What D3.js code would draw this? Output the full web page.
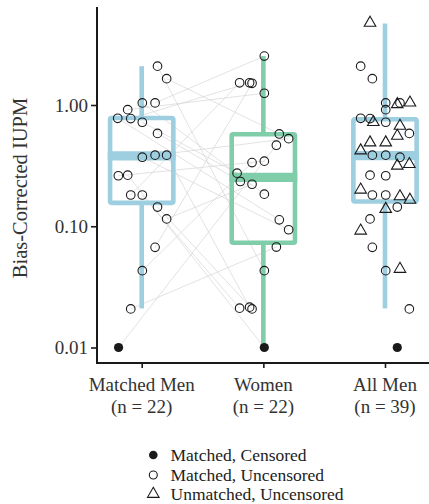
<!DOCTYPE html>
<html><head><meta charset="utf-8">
<script src="https://cdn.jsdelivr.net/npm/d3@7"></script>
<style>body{margin:0;background:#fff}</style>
</head><body><svg id="c" width="429" height="504"></svg>
<script>
// ---------------- data ----------------
const categories = ["Matched Men", "Women", "All Men"];
const categoryN = ["(n = 22)", "(n = 22)", "(n = 39)"];
const yTicks = [0.01, 0.1, 1];
const yTickLabels = ["0.01", "0.10", "1.00"];

const matchedMenIUPM = [2.09, 1.65, 1.04, 1.04, 0.915, 0.777, 0.773, 0.721, 0.583, 0.386, 0.386, 0.371,
  0.264, 0.261, 0.181, 0.181, 0.144, 0.115, 0.067, 0.043, 0.0208, 0.01];
const matchedMenCensored = [0,0,0,0,0,0,0,0,0,0,0,0,0,0,0,0,0,0,0,0,0,1];
// horizontal jitter (category units) in the "Matched Men" column
const matchedMenJitter = [0.13, 0.205, 0.005, 0.11, -0.115, -0.197, -0.09, 0.005, 0.13, 0.11, 0.205, 0.005,
  -0.115, -0.192, -0.09, 0.005, 0.13, 0.205, 0.11, 0.005, -0.09, -0.19];
// horizontal jitter of the same men in the "All Men" column
const matchedMenJitterAll = [-0.2, -0.104, 0.006, 0.123, 0.006, -0.2, -0.123, 0.006, 0.2, -0.104, 0.006, 0.123,
  -0.123, 0.006, -0.104, 0.006, 0.101, -0.123, -0.104, 0.006, 0.2, 0.101];

const womenIUPM = [2.53, 1.525, 1.525, 1.51, 1.25, 0.577, 0.528, 0.466, 0.344, 0.335, 0.274, 0.234,
  0.222, 0.184, 0.113, 0.0936, 0.0674, 0.043, 0.0211, 0.0215, 0.0208, 0.01];
const womenCensored = [0,0,0,0,0,0,0,0,0,0,0,0,0,0,0,0,0,0,0,0,0,1];
const womenJitter = [0.008, -0.195, -0.113, -0.093, 0.008, 0.131, 0.208, 0.107, 0.008, -0.093, -0.216, -0.189,
  -0.093, 0.008, 0.131, 0.208, 0.107, 0.008, -0.195, -0.113, -0.093, 0.008];
// index of the matched woman for each matched man
const pairWomanIndex = [17, 5, 13, 0, 4, 14, 2, 10, 11, 6, 19, 15, 21, 8, 1, 18, 20, 12, 3, 9, 16, 7];

const unmatchedMenIUPM = [4.76, 1.013, 1.044, 0.721, 0.672, 0.556, 0.49, 0.49, 0.421, 0.315, 0.325, 0.20,
  0.176, 0.165, 0.1386, 0.0918, 0.0444];
const unmatchedMenJitter = [-0.123, 0.101, 0.205, -0.096, 0.123, 0.101, -0.123, 0.006, -0.2, 0.101, 0.2, -0.2,
  0.123, 0.205, 0.006, -0.2, 0.123];

const boxLow    = [0.021, 0.01, 0.021];
const boxQ1     = [0.156, 0.0731, 0.16];
const boxMedian = [0.38, 0.253, 0.382];
const boxQ3     = [0.782, 0.574, 0.762];
const boxHigh   = [2.09, 2.53, 4.7];

const legendLabels = ["Matched, Censored", "Matched, Uncensored", "Unmatched, Uncensored"];

// ---------------- layout ----------------
const svg = d3.select("#c");
const panel = {left: 97, right: 429, top: 7, bottom: 363};
const font = "'Liberation Serif', 'Times New Roman', serif";
const ink = "#1a1a1a";
const boxColors = ["#9ecfe0", "#80cdaa", "#9ecfe0"];

const x = d3.scalePoint().domain(categories).range([141.7, 385]);
const step = x.step();
const y = d3.scaleLog().domain([0.01, 1]).range([347.5, 105]);
const jx = (cat, j) => x(cat) + j * step;

// ---------------- pair lines ----------------
const pairs = matchedMenIUPM.map((v, i) => ({
  x1: jx(categories[0], matchedMenJitter[i]), y1: y(v),
  x2: jx(categories[1], womenJitter[pairWomanIndex[i]]), y2: y(womenIUPM[pairWomanIndex[i]])
}));
svg.append("g").selectAll("line").data(pairs).join("line")
  .attr("x1", d => d.x1).attr("y1", d => d.y1).attr("x2", d => d.x2).attr("y2", d => d.y2)
  .attr("stroke", "#d6d6d6").attr("stroke-width", 0.7);

// ---------------- boxes ----------------
const boxW = 0.52 * step;
const lw = 4.6;
const boxes = categories.map((c, i) => ({c, i, lo: boxLow[i], q1: boxQ1[i], med: boxMedian[i], q3: boxQ3[i], hi: boxHigh[i]}));
const bg = svg.append("g").selectAll("g").data(boxes).join("g");
bg.append("line").attr("x1", d => x(d.c)).attr("x2", d => x(d.c))
  .attr("y1", d => y(d.hi)).attr("y2", d => y(d.q3))
  .attr("stroke", d => boxColors[d.i]).attr("stroke-width", lw);
bg.append("line").attr("x1", d => x(d.c)).attr("x2", d => x(d.c))
  .attr("y1", d => y(d.q1)).attr("y2", d => y(d.lo))
  .attr("stroke", d => boxColors[d.i]).attr("stroke-width", lw);
bg.append("rect").attr("x", d => x(d.c) - boxW / 2).attr("width", boxW)
  .attr("y", d => y(d.q3)).attr("height", d => y(d.q1) - y(d.q3))
  .attr("fill", "none").attr("stroke", d => boxColors[d.i]).attr("stroke-width", lw)
  .attr("stroke-linejoin", "round").attr("rx", 1.5);
bg.append("line").attr("x1", d => x(d.c) - boxW / 2 - lw / 2).attr("x2", d => x(d.c) + boxW / 2 + lw / 2)
  .attr("y1", d => y(d.med)).attr("y2", d => y(d.med))
  .attr("stroke", d => boxColors[d.i]).attr("stroke-width", lw * 2);

// ---------------- points ----------------
const circles = [];
matchedMenIUPM.forEach((v, i) => {
  circles.push({x: jx(categories[0], matchedMenJitter[i]), v, cens: matchedMenCensored[i]});
  circles.push({x: jx(categories[2], matchedMenJitterAll[i]), v, cens: matchedMenCensored[i]});
});
womenIUPM.forEach((v, i) => circles.push({x: jx(categories[1], womenJitter[i]), v, cens: womenCensored[i]}));
const pg = svg.append("g");
pg.selectAll("circle").data(circles).join("circle")
  .attr("cx", d => d.x).attr("cy", d => y(d.v))
  .attr("r", d => d.cens ? 4.6 : 4.3)
  .attr("fill", d => d.cens ? ink : "none")
  .attr("stroke", ink).attr("stroke-width", d => d.cens ? 0 : 1.1);
const tri = d3.symbol().type(d3.symbolTriangle).size(58);
pg.selectAll("path.tri").data(unmatchedMenIUPM).join("path").attr("class", "tri")
  .attr("transform", (v, i) => `translate(${jx(categories[2], unmatchedMenJitter[i])},${y(v)})`)
  .attr("d", tri()).attr("fill", "none").attr("stroke", ink).attr("stroke-width", 1.1);

// ---------------- axes ----------------
const ya = svg.append("g").attr("transform", `translate(${panel.left},0)`)
  .call(d3.axisLeft(y).tickValues(yTicks).tickFormat((d, i) => yTickLabels[i]).tickSize(6).tickPadding(3));
ya.select(".domain").remove();
ya.selectAll(".tick line").attr("stroke", ink).attr("stroke-width", 1.6);
ya.selectAll(".tick text").attr("font-family", font).attr("font-size", 19).attr("fill", "#333");

const xa = svg.append("g").attr("transform", `translate(0,${panel.bottom})`)
  .call(d3.axisBottom(x).tickSize(5).tickFormat(""));
xa.select(".domain").remove();
xa.selectAll(".tick line").attr("stroke", ink).attr("stroke-width", 1.6);

svg.append("path")
  .attr("d", `M${panel.left},${panel.top}V${panel.bottom}H${panel.right}`)
  .attr("fill", "none").attr("stroke", ink).attr("stroke-width", 2);

const xl = svg.append("g").selectAll("text").data(categories).join("text")
  .attr("x", d => x(d)).attr("text-anchor", "middle")
  .attr("font-family", font).attr("font-size", 19).attr("fill", "#333");
xl.append("tspan").attr("x", d => x(d)).attr("y", 391).text(d => d);
xl.append("tspan").attr("x", d => x(d)).attr("y", 412.5).text((d, i) => categoryN[i]);

svg.append("text").attr("transform", "translate(26.5,188) rotate(-90)")
  .attr("text-anchor", "middle").attr("font-family", font).attr("font-size", 20.5).attr("fill", "#333")
  .text("Bias-Corrected IUPM");

// ---------------- legend ----------------
const lg = svg.append("g");
const ly = [455, 475, 494];
lg.append("circle").attr("cx", 153.3).attr("cy", ly[0]).attr("r", 4.3).attr("fill", ink);
lg.append("circle").attr("cx", 153.3).attr("cy", ly[1]).attr("r", 4).attr("fill", "none").attr("stroke", ink).attr("stroke-width", 1.1);
lg.append("path").attr("transform", `translate(153.3,${ly[2]})`).attr("d", tri())
  .attr("fill", "none").attr("stroke", ink).attr("stroke-width", 1.1);
lg.selectAll("text").data(legendLabels).join("text")
  .attr("x", 170.5).attr("y", (d, i) => ly[i] + 5.5)
  .attr("font-family", font).attr("font-size", 17.5).attr("fill", "#222")
  .text(d => d);
</script></body></html>
